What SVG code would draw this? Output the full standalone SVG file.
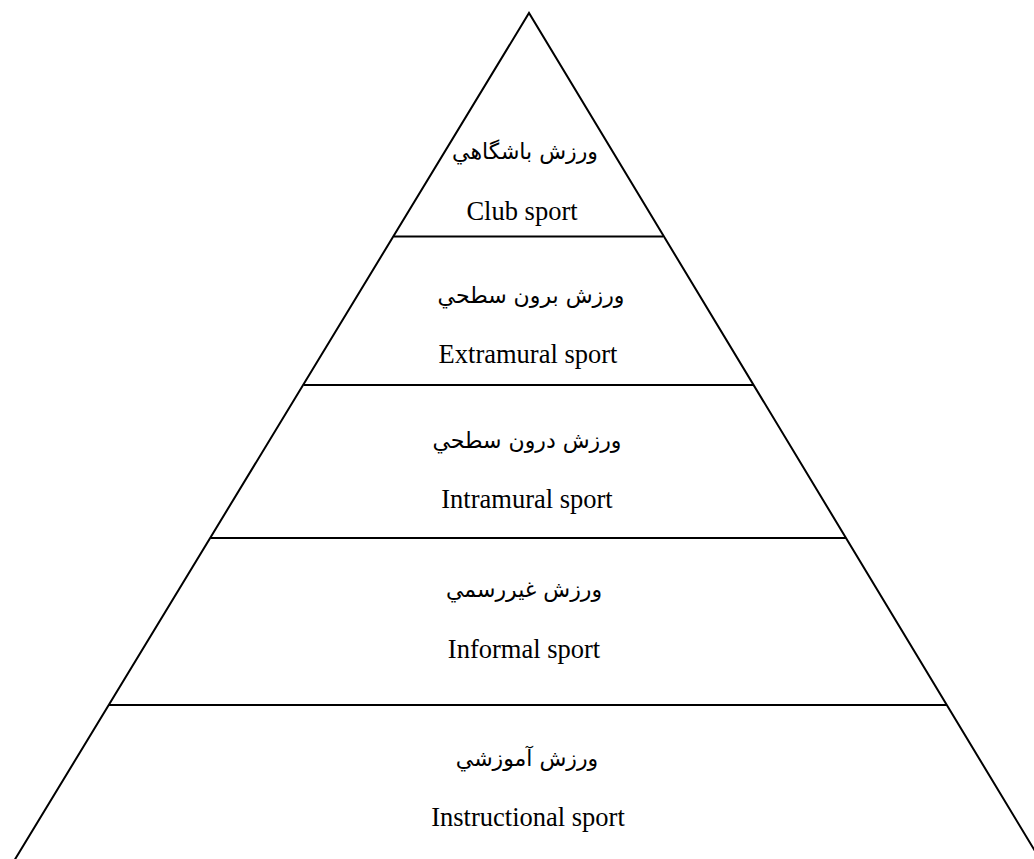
<svg xmlns="http://www.w3.org/2000/svg" width="1034" height="859" viewBox="0 0 1034 859">
<style>
.edge{stroke:#000;stroke-width:2;fill:none;stroke-linecap:butt}
.ar{font-family:"DejaVu Sans","Liberation Sans",sans-serif;font-size:22px;fill:#000;text-anchor:middle}
.en{font-family:"Liberation Serif","Times New Roman",serif;font-size:26.5px;fill:#000;text-anchor:middle}
</style>
<rect width="1034" height="859" fill="#fff"/>
<g id="connectors">
<polyline class="edge" points="14,861 529,13 1041,861"/>
<line class="edge" x1="394" y1="236.5" x2="663" y2="236.5"/>
<line class="edge" x1="304" y1="385" x2="753" y2="385"/>
<line class="edge" x1="211" y1="538" x2="846" y2="538"/>
<line class="edge" x1="109" y1="705" x2="947" y2="705"/>
</g>
<g id="club">
<text class="ar" x="525" y="159" direction="rtl">ورزش باشگاهي</text>
<text class="en" x="522" y="220">Club sport</text>
</g>
<g id="extramural">
<text class="ar" x="531" y="303" direction="rtl">ورزش برون سطحي</text>
<text class="en" x="528" y="363">Extramural sport</text>
</g>
<g id="intramural">
<text class="ar" x="527" y="448" direction="rtl">ورزش درون سطحي</text>
<text class="en" x="527" y="508">Intramural sport</text>
</g>
<g id="informal">
<text class="ar" x="524" y="597" direction="rtl">ورزش غيررسمي</text>
<text class="en" x="524" y="658">Informal sport</text>
</g>
<g id="instructional">
<text class="ar" x="527" y="766" direction="rtl">ورزش آموزشي</text>
<text class="en" x="528" y="826">Instructional sport</text>
</g>
</svg>
